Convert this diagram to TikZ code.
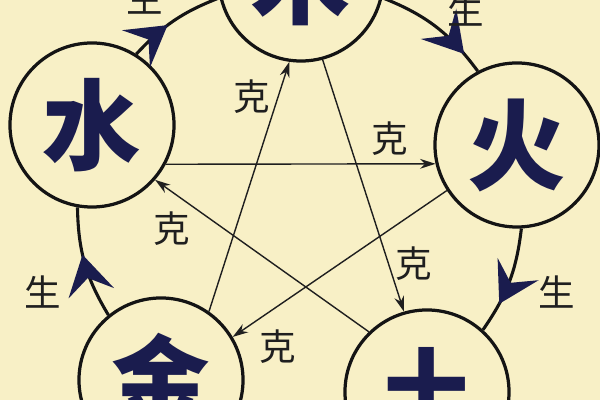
\documentclass[tikz,border=0pt]{standalone}
\usepackage{fontspec}
\newfontfamily\cjk{Noto Sans CJK SC}
\usetikzlibrary{arrows.meta,decorations.markings}
\definecolor{paper}{RGB}{248,240,198}
\definecolor{ink}{RGB}{26,28,78}

\tikzset{
	element/.style={circle, draw=black!92, line width=2.3pt, minimum size=4.1cm, inner sep=0pt,
		text=ink, font=\cjk\bfseries\fontsize{70}{70}\selectfont},
	sheng/.style={draw=black!92, line width=2.2pt,
		postaction={decorate, decoration={markings,
			mark=at position #1 with {\arrow[color=ink]{Stealth[length=28pt, width=33pt, inset=11pt]}}}}},
	ke/.style={draw=black!88, line width=1pt, -{Stealth[length=11pt, width=7pt]}},
	lbl/.style={font=\cjk\fontsize{26}{26}\selectfont, text=black!88}
}

\begin{document}
\begin{tikzpicture}[x=0.025cm, y=0.025cm]
		%%%%% START %%%%%
		\useasboundingbox (0, 0) rectangle (600, 400);
		\fill[paper] (0, 0) rectangle (600, 400);
		\clip (0, 0) rectangle (600, 400);
		
		\node[element] (mu) at (301, 421) {木};
		\node[element] (huo) at (517, 255) {火};
		\node[element] (tu) at (427, 8) {土};
		\node[element] (jin) at (161, 20) {金};
		\node[element] (shui) at (92, 275) {水};
		
		% outer cycle
		\draw[sheng=0.42] (shui.58) to[bend left=13] (mu.193);
		\draw[sheng=0.82] (mu.347) to[bend left=16] (huo.118);
		\draw[sheng=0.72] (huo.273) to[bend left=14] (tu.48);
		\draw[sheng=0.58] (jin.129) to[bend left=15] (shui.260);
		
		% inner star
		\draw[ke] (jin.55) -- (mu.262);
		\draw[ke] (mu.285) -- (tu.106);
		\draw[ke] (shui.-28) -- (huo.193);
		\draw[ke] (tu.134) -- (shui.319);
		\draw[ke] (huo.213) -- (jin.31);
		
		\node[lbl] (ke1) at (252, 303) {克};
		\node[lbl] (ke2) at (390, 261) {克};
		\node[lbl] (ke3) at (172, 171) {克};
		\node[lbl] (ke4) at (414, 136) {克};
		\node[lbl] (ke5) at (278, 53) {克};
		
		\node[lbl] (sheng1) at (145, 402) {生};
		\node[lbl] (sheng2) at (466, 390) {生};
		\node[lbl] (sheng3) at (557, 108) {生};
		\node[lbl] (sheng4) at (43, 108) {生};
		
		%%%%% END %%%%%
\end{tikzpicture}
\end{document}
